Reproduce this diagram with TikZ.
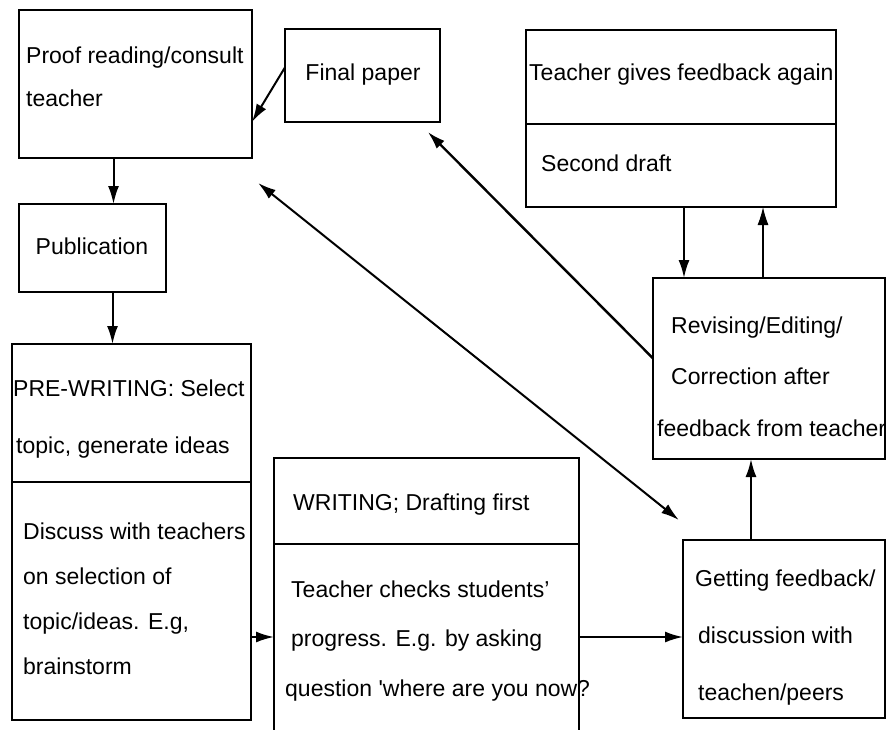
\documentclass[tikz,border=0pt]{standalone}
\usepackage{fontspec}
\setmainfont{Liberation Sans}
\usetikzlibrary{arrows.meta, positioning}

\newcommand{\txtsize}[1]{\fontsize{23}{#1}\selectfont}

\begin{document}
\begin{tikzpicture}[
        x=1pt, y=-1pt,
        box/.style={rectangle, draw, line width=2.6pt, inner sep=0pt, outer sep=0pt, anchor=north west},
        txt/.style={anchor=base west, align=left, inner sep=0pt, font=\txtsize{#1}},
        txt/.default=28,
        arrow/.style={-{Latex[length=18pt, width=11pt]}, line width=2pt},
        twoway/.style={{Latex[length=18pt, width=11pt]}-{Latex[length=18pt, width=11pt]}, line width=2pt}
    ]
        \useasboundingbox (0,0) rectangle (886,729);
        \clip (0,0) rectangle (886,729);

        % Boxes
        \node[box, minimum width=233, minimum height=148] (proof) at (19,10) {};
        \node[box, minimum width=155, minimum height=93] (final) at (285,29) {};
        \node[box, minimum width=147, minimum height=88] (pub) at (19,204) {};
        \node[box, minimum width=310, minimum height=94] (again) at (526,30) {};
        \node[box, minimum width=310, minimum height=83, below=0pt of again] (second) {};
        \node[box, minimum width=232, minimum height=181] (rev) at (653,278) {};
        \node[box, minimum width=239, minimum height=138] (prewrite) at (12,344) {};
        \node[box, minimum width=239, minimum height=238, below=0pt of prewrite] (discuss) {};
        \node[box, minimum width=305, minimum height=86] (writing) at (274,458) {};
        \node[box, minimum width=305, minimum height=230, below=0pt of writing] (checks) {};
        \node[box, minimum width=202, minimum height=178] (getfb) at (683,540) {};

        % Texts (multi-line ones sit on their last baseline)
        \node[txt=43] (proofT) at (26,106) {Proof reading/consult\\teacher};
        \node[txt, anchor=base] (finalT) at (363,80) {Final paper};
        \node[txt, anchor=base] (pubT) at (92,254) {Publication};
        \node[txt] (againT) at (529,80) {Teacher gives feedback again};
        \node[txt] (secondT) at (541,171) {Second draft};
        \node[txt=57] (prewriteT) at (13,453) {PRE-WRITING: Select\\\hspace*{3pt}topic, generate ideas};
        \node[txt=45] (discussT) at (23,674) {Discuss with teachers\\on selection of\\topic/ideas. E.g,\\brainstorm};
        \node[txt] (writingT) at (293,510) {WRITING; Drafting first};
        \node[txt=49.5] (checksT) at (285,696) {\hspace*{6pt}Teacher checks students’\\\hspace*{6pt}progress. E.g. by asking\\question \textquotesingle where are you now?};
        \node[txt=51.5] (revT) at (657,436) {\hspace*{14pt}Revising/Editing/\\\hspace*{14pt}Correction after\\feedback from teacher};
        \node[txt=57] (getfbT) at (695,700) {Getting feedback/\\\hspace*{3pt}discussion with\\\hspace*{3pt}teachen/peers};

        % Arrows
        \draw[arrow] ([xshift=-22]proof.south) -- ([xshift=-22]proof.south |- pub.north);
        \draw[arrow] ([xshift=20]pub.south) -- ([xshift=20]pub.south |- prewrite.north);
        \draw[arrow] (final.174.5) -- (proof.-18);
        \draw[arrow, line width=2.4pt, shorten >=14pt] (rev.175) -- (final.-40.5);
        \draw[twoway, shorten <=40pt, shorten >=32pt] (proof.-39.9) -- (getfb.132.5);
        \draw[arrow] ([xshift=3]second.south) -- ([xshift=3]second.south |- rev.north);
        \draw[arrow, line width=1.2pt] ([xshift=-6]rev.north) -- ([xshift=-6]rev.north |- second.south);
        \draw[arrow] ([xshift=-33]getfb.north) -- ([xshift=-33]getfb.north |- rev.south);
        \draw[arrow] ([yshift=-36]discuss.east) -- ([yshift=-36]discuss.east -| checks.west);
        \draw[arrow] ([yshift=22]checks.east) -- ([yshift=22]checks.east -| getfb.west);
    \end{tikzpicture}
\end{document}
